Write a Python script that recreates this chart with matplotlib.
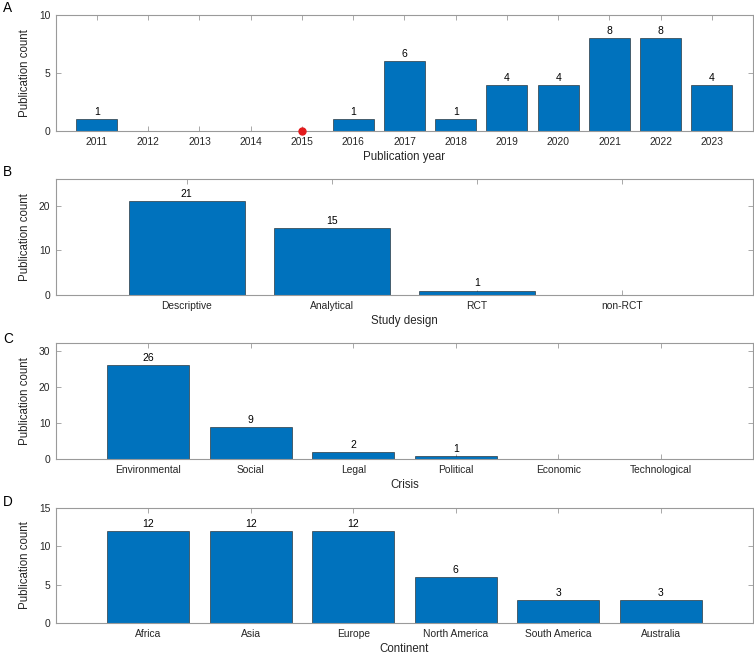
import matplotlib
matplotlib.use("Agg")
import matplotlib.pyplot as plt

plt.rcParams['font.family'] = ['Liberation Sans', 'DejaVu Sans']

years = [2011, 2012, 2013, 2014, 2015, 2016, 2017, 2018, 2019, 2020, 2021, 2022, 2023]
year_counts = [1, 0, 0, 0, 0, 1, 6, 1, 4, 4, 8, 8, 4]
marked_year = 2015

designs = ["Descriptive", "Analytical", "RCT", "non-RCT"]
design_counts = [21, 15, 1, 0]

crises = ["Environmental", "Social", "Legal", "Political", "Economic", "Technological"]
crisis_counts = [26, 9, 2, 1, 0, 0]

continents = ["Africa", "Asia", "Europe", "North America", "South America", "Australia"]
continent_counts = [12, 12, 12, 6, 3, 3]

W, H = 754, 654
fig = plt.figure(figsize=(W / 100, H / 100), dpi=100)

BAR = '#0072BD'
SPINE = '#9a9a9a'
TXT = '#262626'

def make_ax(top, bottom, left=56, right=753):
    return fig.add_axes([left / W, 1 - bottom / H, (right - left) / W, (bottom - top) / H])

def style(ax, ylim, yticks):
    ax.set_ylim(*ylim)
    ax.set_yticks(yticks)
    for s in ax.spines.values():
        s.set_color(SPINE)
        s.set_linewidth(0.8)
    ax.tick_params(direction='in', top=True, right=True, length=3.5, width=0.6,
                   color=SPINE, labelsize=7.4, labelcolor=TXT, pad=4)
    ax.set_ylabel("Publication count", fontsize=8.3, color=TXT, labelpad=6)

def labels(ax, xs, vals):
    for x, v in zip(xs, vals):
        if v > 0:
            ax.annotate(str(v), (x, v), xytext=(0, 1.5), textcoords='offset points',
                        ha='center', va='bottom', fontsize=7.5, color='black')

# Panel A
axA = make_ax(15, 131)
axA.bar(years, year_counts, width=0.8, color=BAR, edgecolor='#1a1a1a', linewidth=0.4, zorder=2)
axA.plot([marked_year], [0], 'o', color='#e31a1c', markersize=5, zorder=4, clip_on=False)
axA.set_xlim(years[0] - 0.8, years[-1] + 0.8)
axA.set_xticks(years)
style(axA, (0, 10), [0, 5, 10])
labels(axA, years, year_counts)
axA.set_xlabel("Publication year", fontsize=8.3, color=TXT, labelpad=3)

# Panel B
axB = make_ax(179, 295)
xb = list(range(1, len(designs) + 1))
axB.bar(xb, design_counts, width=0.8, color=BAR, edgecolor='#1a1a1a', linewidth=0.4, zorder=2)
axB.set_xlim(0.1, len(designs) + 0.9)
axB.set_xticks(xb)
axB.set_xticklabels(designs)
style(axB, (0, 26), [0, 10, 20])
labels(axB, xb, design_counts)
axB.set_xlabel("Study design", fontsize=8.3, color=TXT, labelpad=3)

# Panel C
axC = make_ax(343.3, 459.3)
xc = list(range(1, len(crises) + 1))
axC.bar(xc, crisis_counts, width=0.8, color=BAR, edgecolor='#1a1a1a', linewidth=0.4, zorder=2)
axC.set_xlim(0.1, len(crises) + 0.9)
axC.set_xticks(xc)
axC.set_xticklabels(crises)
style(axC, (0, 32), [0, 10, 20, 30])
labels(axC, xc, crisis_counts)
axC.set_xlabel("Crisis", fontsize=8.3, color=TXT, labelpad=3)

# Panel D
axD = make_ax(507.7, 623.3)
xd = list(range(1, len(continents) + 1))
axD.bar(xd, continent_counts, width=0.8, color=BAR, edgecolor='#1a1a1a', linewidth=0.4, zorder=2)
axD.set_xlim(0.1, len(continents) + 0.9)
axD.set_xticks(xd)
axD.set_xticklabels(continents)
style(axD, (0, 15), [0, 5, 10, 15])
labels(axD, xd, continent_counts)
axD.set_xlabel("Continent", fontsize=8.3, color=TXT, labelpad=3)

# Panel letters
for letter, y in [("A", 8), ("B", 172), ("C", 339), ("D", 502)]:
    fig.text(3 / W, 1 - y / H, letter, fontsize=9.8, color='black', ha='left', va='center')

fig.savefig("out.png", dpi=100)
